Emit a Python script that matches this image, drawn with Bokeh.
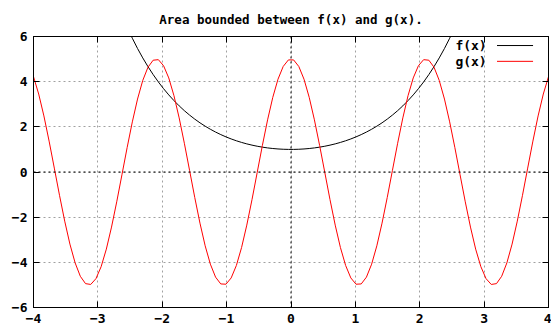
from bokeh.plotting import figure
from bokeh.models import Range1d, FixedTicker, LinearAxis, Span, Label, Arrow
from bokeh.embed import file_html
from bokeh.resources import INLINE
import numpy as np

# Sampling of the two curves over the plotted interval (100 samples)
x_min, x_max = -4.0, 4.0
n_samples = 100
# f(x) = cosh(x); g(x) = amp * cos(freq * x)
g_amp = 5.0
g_freq = 3.0

x_ticks = [-4, -3, -2, -1, 0, 1, 2, 3, 4]
y_ticks = [-6, -4, -2, 0, 2, 4, 6]
legend_labels = ["f(x)", "g(x)"]
curve_colors = ["#000000", "#ff0000"]

xs = np.linspace(x_min, x_max, n_samples)
f_vals = np.cosh(xs)
g_vals = g_amp * np.cos(g_freq * xs)

FONT = "DejaVu Sans Mono"

p = figure(width=551, height=331, output_backend="svg", toolbar_location=None,
           x_range=Range1d(-4, 4), y_range=Range1d(-6, 6),
           min_border_left=33, min_border_right=3,
           min_border_top=36, min_border_bottom=24,
           title="Area bounded between f(x) and g(x).")
p.title.align = "center"
p.title.text_font = FONT
p.title.text_font_style = "bold"
p.title.text_font_size = "12.5px"
p.title.text_color = "#000000"
p.title.standoff = 19

p.outline_line_color = "#000000"
p.outline_line_width = 1
p.background_fill_color = "#ffffff"
p.border_fill_color = "#ffffff"

# dotted grid at every major tick
for g in (p.xgrid, p.ygrid):
    g.grid_line_color = "#a0a0a0"
    g.grid_line_dash = "2 3"
    g.grid_line_width = 1
p.xgrid.ticker = FixedTicker(ticks=x_ticks)
p.ygrid.ticker = FixedTicker(ticks=y_ticks)


def style_axis(ax, ticks, labels=True):
    ax.ticker = FixedTicker(ticks=ticks)
    ax.axis_line_color = "#000000"
    ax.major_tick_line_color = "#000000"
    ax.major_tick_in = 6
    ax.major_tick_out = 0
    ax.minor_tick_line_color = None
    ax.major_label_text_font = FONT
    ax.major_label_text_font_style = "bold"
    if labels:
        ax.major_label_text_font_size = "13px"
        ax.major_label_text_color = "#000000"
        ax.major_label_standoff = 6
    else:
        # mirrored ticks only, no labels
        ax.major_label_text_font_size = "1px"
        ax.major_label_text_color = None
        ax.major_label_standoff = 0


style_axis(p.xaxis[0], x_ticks)
style_axis(p.yaxis[0], y_ticks)

top_axis = LinearAxis()
style_axis(top_axis, x_ticks, labels=False)
p.add_layout(top_axis, "above")
right_axis = LinearAxis()
style_axis(right_axis, y_ticks, labels=False)
p.add_layout(right_axis, "right")

# zero axes
p.add_layout(Span(location=0, dimension="height", line_color="#000000",
                  line_dash="2 3", line_width=1))
p.add_layout(Span(location=0, dimension="width", line_color="#000000",
                  line_dash="2 3", line_width=1))

p.line(xs, f_vals, line_color=curve_colors[0], line_width=1)
p.line(xs, g_vals, line_color=curve_colors[1], line_width=1)

# key in the top right corner: label then line sample
key_y = [5.6, 4.9]
for lab, col, ky in zip(legend_labels, curve_colors, key_y):
    p.add_layout(Label(x=3.04, y=ky, text=lab, text_font=FONT,
                       text_font_style="bold", text_font_size="13px",
                       text_align="right", text_baseline="middle",
                       text_color="#000000"))
    p.add_layout(Arrow(x_start=3.2, y_start=ky, x_end=3.76, y_end=ky,
                       start=None, end=None, line_color=col, line_width=1))

open("out.html", "w").write(file_html(p, INLINE))
